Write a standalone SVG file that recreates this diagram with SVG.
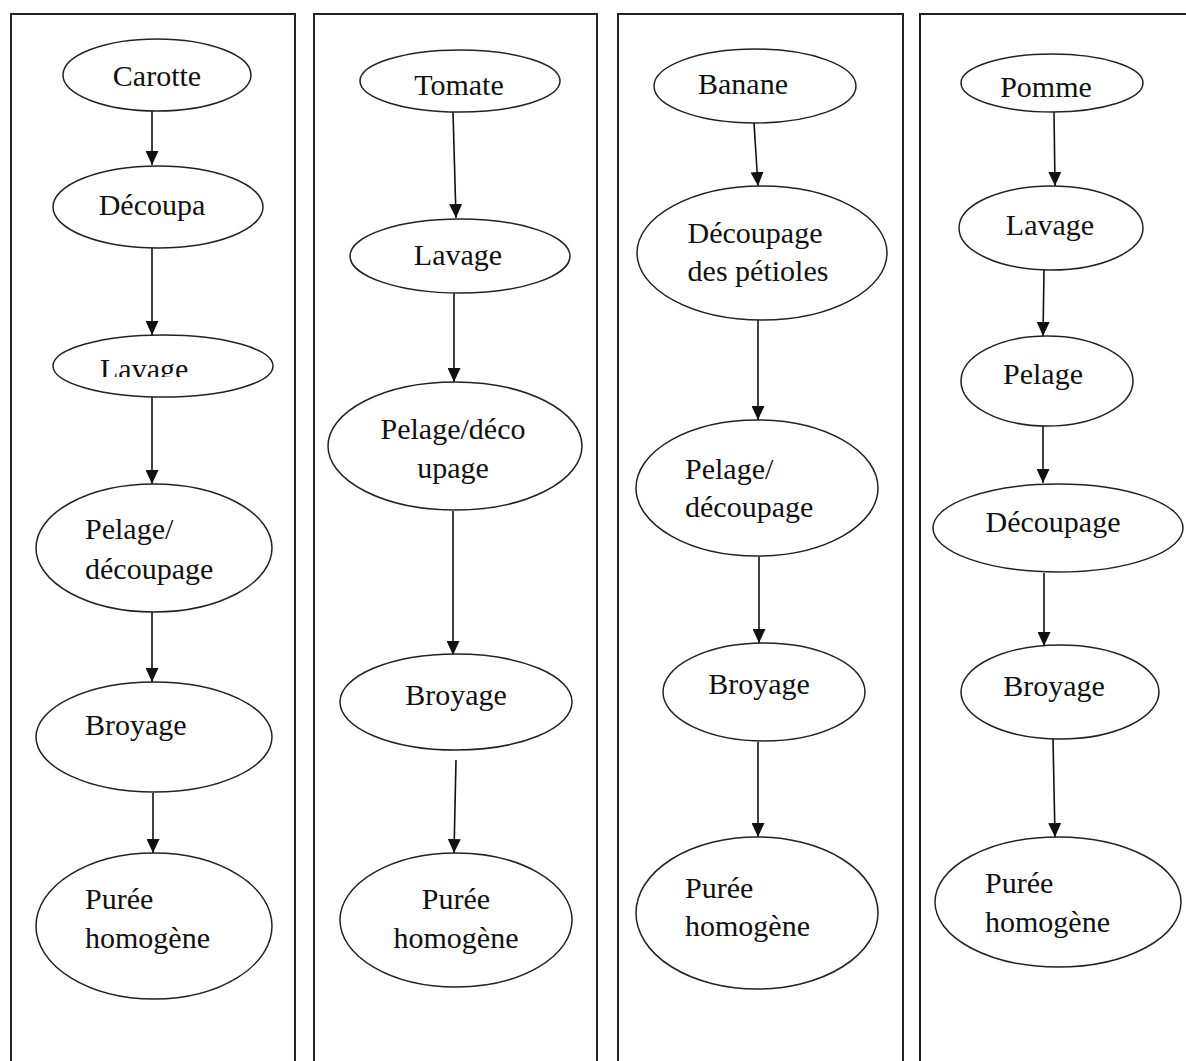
<svg xmlns="http://www.w3.org/2000/svg" width="1186" height="1061" viewBox="0 0 1186 1061">
<style>
.panel{fill:none;stroke:#222;stroke-width:2}
.node{fill:#fff;stroke:#222;stroke-width:1.5}
.lbl{font-family:"Liberation Serif","Times New Roman",serif;font-size:30px;fill:#111}
.c{text-anchor:middle}
.edge{stroke:#111;stroke-width:1.6;fill:none;marker-end:url(#ah)}
</style>
<defs>
<marker id="ah" markerUnits="userSpaceOnUse" markerWidth="15" markerHeight="13" refX="14" refY="6.5" orient="auto">
<path d="M0,0 L14,6.5 L0,13 z" fill="#111"/>
</marker>
<clipPath id="clipLav"><rect x="0" y="0" width="1186" height="377"/></clipPath>
</defs>
<rect width="1186" height="1061" fill="#fff"/>
<g id="panels">
<path class="panel" d="M11,1061 V14 H295 V1061"/>
<path class="panel" d="M314,1061 V14 H597 V1061"/>
<path class="panel" d="M618,1061 V14 H903 V1061"/>
<path class="panel" d="M920,1061 V14 H1190"/>
</g>
<g id="connectors">
<line class="edge" x1="152" y1="111" x2="152" y2="165"/>
<line class="edge" x1="152" y1="248" x2="152" y2="335"/>
<line class="edge" x1="152" y1="397" x2="152" y2="484"/>
<line class="edge" x1="152" y1="612" x2="152" y2="682"/>
<line class="edge" x1="153" y1="793" x2="153" y2="853"/>
<line class="edge" x1="453" y1="112" x2="456" y2="218"/>
<line class="edge" x1="454" y1="293" x2="454" y2="382"/>
<line class="edge" x1="453" y1="511" x2="453" y2="655"/>
<line class="edge" x1="456" y1="760" x2="454" y2="853"/>
<line class="edge" x1="754" y1="123" x2="758" y2="186"/>
<line class="edge" x1="758" y1="320" x2="758" y2="420"/>
<line class="edge" x1="759" y1="557" x2="759" y2="643"/>
<line class="edge" x1="758" y1="742" x2="758" y2="837"/>
<line class="edge" x1="1054" y1="112" x2="1055" y2="186"/>
<line class="edge" x1="1044" y1="270" x2="1043" y2="336"/>
<line class="edge" x1="1043" y1="426" x2="1043" y2="483"/>
<line class="edge" x1="1044" y1="573" x2="1044" y2="646"/>
<line class="edge" x1="1053" y1="739" x2="1055" y2="837"/>
</g>
<g id="n-carotte"><ellipse class="node" cx="157" cy="75" rx="94" ry="36"/><text class="lbl c" x="157" y="86">Carotte</text></g>
<g id="n-decoupa"><ellipse class="node" cx="158" cy="207" rx="105" ry="41"/><text class="lbl c" x="152" y="215">Découpa</text></g>
<g id="n-lavage1"><ellipse class="node" cx="163" cy="366" rx="110" ry="31"/><text class="lbl" x="100" y="379" clip-path="url(#clipLav)">Lavage</text></g>
<g id="n-pelage1"><ellipse class="node" cx="154" cy="548" rx="118" ry="64"/><text class="lbl" x="85" y="539">Pelage/</text><text class="lbl" x="85" y="579">découpage</text></g>
<g id="n-broyage1"><ellipse class="node" cx="154" cy="737" rx="118" ry="55"/><text class="lbl" x="85" y="735">Broyage</text></g>
<g id="n-puree1"><ellipse class="node" cx="154" cy="926" rx="118" ry="73"/><text class="lbl" x="85" y="909">Purée</text><text class="lbl" x="85" y="948">homogène</text></g>

<g id="n-tomate"><ellipse class="node" cx="460" cy="81" rx="100" ry="31"/><text class="lbl c" x="459" y="95">Tomate</text></g>
<g id="n-lavage2"><ellipse class="node" cx="460" cy="256" rx="110" ry="37"/><text class="lbl c" x="458" y="265">Lavage</text></g>
<g id="n-pelage2"><ellipse class="node" cx="455" cy="446" rx="127" ry="64"/><text class="lbl c" x="453" y="439">Pelage/déco</text><text class="lbl c" x="453" y="478">upage</text></g>
<g id="n-broyage2"><ellipse class="node" cx="456" cy="702" rx="116" ry="48"/><text class="lbl c" x="456" y="705">Broyage</text></g>
<g id="n-puree2"><ellipse class="node" cx="456" cy="920" rx="116" ry="67"/><text class="lbl c" x="456" y="909">Purée</text><text class="lbl c" x="456" y="948">homogène</text></g>

<g id="n-banane"><ellipse class="node" cx="755" cy="86" rx="101" ry="37"/><text class="lbl c" x="743" y="94">Banane</text></g>
<g id="n-petioles"><ellipse class="node" cx="762" cy="253" rx="125" ry="67"/><text class="lbl c" x="755" y="243">Découpage</text><text class="lbl c" x="758" y="281">des pétioles</text></g>
<g id="n-pelage3"><ellipse class="node" cx="757" cy="488" rx="121" ry="68"/><text class="lbl" x="685" y="479">Pelage/</text><text class="lbl" x="685" y="517">découpage</text></g>
<g id="n-broyage3"><ellipse class="node" cx="764" cy="692" rx="101" ry="49"/><text class="lbl c" x="759" y="694">Broyage</text></g>
<g id="n-puree3"><ellipse class="node" cx="757" cy="913" rx="121" ry="76"/><text class="lbl" x="685" y="898">Purée</text><text class="lbl" x="685" y="936">homogène</text></g>

<g id="n-pomme"><ellipse class="node" cx="1052" cy="83" rx="91" ry="29"/><text class="lbl c" x="1046" y="97">Pomme</text></g>
<g id="n-lavage4"><ellipse class="node" cx="1051" cy="228" rx="92" ry="42"/><text class="lbl c" x="1050" y="235">Lavage</text></g>
<g id="n-pelage4"><ellipse class="node" cx="1047" cy="381" rx="86" ry="45"/><text class="lbl c" x="1043" y="384">Pelage</text></g>
<g id="n-decoupage4"><ellipse class="node" cx="1058" cy="528" rx="125" ry="44"/><text class="lbl c" x="1053" y="532">Découpage</text></g>
<g id="n-broyage4"><ellipse class="node" cx="1060" cy="692" rx="99" ry="47"/><text class="lbl c" x="1054" y="696">Broyage</text></g>
<g id="n-puree4"><ellipse class="node" cx="1058" cy="902" rx="123" ry="65"/><text class="lbl" x="985" y="893">Purée</text><text class="lbl" x="985" y="932">homogène</text></g>
</svg>
